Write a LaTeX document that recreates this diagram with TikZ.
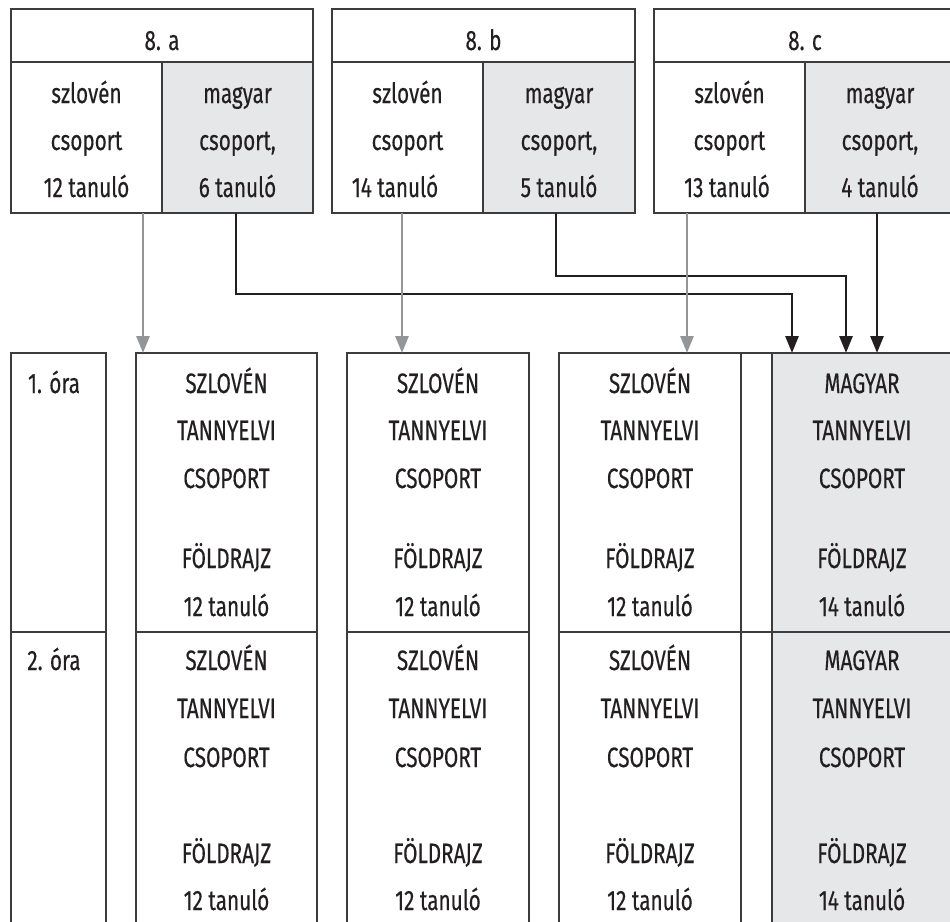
\documentclass[tikz,border=0pt]{standalone}
\usepackage{fontspec}
\setmainfont{Fira Sans}[FakeStretch=0.74,FakeBold=0.35]
\usetikzlibrary{arrows.meta}
\definecolor{shade}{HTML}{E6E7E8}
\definecolor{garr}{HTML}{939598}
\definecolor{bline}{HTML}{3C3C3C}
\definecolor{barr}{HTML}{231F20}
\newcommand\mkcell[6]{\node[cellbox, fill=#6, minimum width={(#4-#2)*1pt}, minimum height={(#5-#3)*1pt}, anchor=north west] (#1) at (#2,#3) {};}
\begin{document}
\begin{tikzpicture}[x=1pt,y=-1pt,
  cellbox/.style={draw=bline, line width=1.3pt, inner sep=0pt, outer sep=0pt},
  txt/.style={inner sep=0pt, outer sep=0pt, font=\fontsize{28}{32}\selectfont, text=barr},
  barrow/.style={draw=barr, line width=2.8pt, -{Triangle[length=17pt,width=13pt]}},
  garrow/.style={draw=garr, line width=2.8pt, -{Triangle[length=17pt,width=13pt]}}]
\useasboundingbox (0,0) rectangle (950,921);
\clip (0,0) rectangle (950,921);
% top boxes
\mkcell{ta}{11}{9}{313}{62}{white}
\mkcell{sa}{11}{62}{162}{213}{white}
\mkcell{ma}{162}{62}{313}{213}{shade}
\mkcell{tb}{332}{9}{635}{62}{white}
\mkcell{sb}{332}{62}{483}{213}{white}
\mkcell{mb}{483}{62}{635}{213}{shade}
\mkcell{tc}{654}{9}{956}{62}{white}
\mkcell{sc}{654}{62}{805}{213}{white}
\mkcell{mc}{805}{62}{956}{213}{shade}
% top texts
\node[txt,anchor=base] (tta) at (162,50) {8. a};
\node[txt,anchor=base] (ttb) at (483.5,50) {8. b};
\node[txt,anchor=base] (ttc) at (805,50) {8. c};
\node[txt,anchor=base] (sa1) at (86.5,103) {szlovén};
\node[txt,anchor=base] (sa2) at (86.5,150) {csoport};
\node[txt,anchor=base] (sa3) at (86.5,197) {12 tanuló};
\node[txt,anchor=base] (ma1) at (237.5,103) {magyar};
\node[txt,anchor=base] (ma2) at (237.5,150) {csoport,};
\node[txt,anchor=base] (ma3) at (237.5,197) {6 tanuló};
\node[txt,anchor=base] (sb1) at (407.5,103) {szlovén};
\node[txt,anchor=base] (sb2) at (407.5,150) {csoport};
\node[txt,anchor=base] (sb3) at (395,197) {14 tanuló};
\node[txt,anchor=base] (mb1) at (559,103) {magyar};
\node[txt,anchor=base] (mb2) at (559,150) {csoport,};
\node[txt,anchor=base] (mb3) at (559,197) {5 tanuló};
\node[txt,anchor=base] (sc1) at (729.5,103) {szlovén};
\node[txt,anchor=base] (sc2) at (729.5,150) {csoport};
\node[txt,anchor=base] (sc3) at (727,197) {13 tanuló};
\node[txt,anchor=base] (mc1) at (880,103) {magyar};
\node[txt,anchor=base] (mc2) at (880,150) {csoport,};
\node[txt,anchor=base] (mc3) at (880,197) {4 tanuló};
% bottom table
\mkcell{o1}{11}{353}{106}{632}{white}
\mkcell{o2}{11}{632}{106}{940}{white}
\mkcell{a1}{136}{353}{317}{632}{white}
\mkcell{a2}{136}{632}{317}{940}{white}
\mkcell{b1}{347}{353}{529}{632}{white}
\mkcell{b2}{347}{632}{529}{940}{white}
\mkcell{c1}{559}{353}{741}{632}{white}
\mkcell{c2}{559}{632}{741}{940}{white}
\mkcell{n1}{741}{353}{772}{632}{white}
\mkcell{n2}{741}{632}{772}{940}{white}
\mkcell{m1}{772}{353}{956}{632}{shade}
\mkcell{m2}{772}{632}{956}{940}{shade}
\node[txt,anchor=base] (ora1) at (54,393) {1. óra};
\node[txt,anchor=base] (ora2) at (54,670) {2. óra};
\foreach \cx/\nm/\lang/\num in {226.5/a/SZLOVÉN/12, 438/b/SZLOVÉN/12, 650/c/SZLOVÉN/12, 862/m/MAGYAR/14} {
  \node[txt,anchor=base] (\nm r1l1) at (\cx,393) {\lang};
  \node[txt,anchor=base] (\nm r1l2) at (\cx,440) {TANNYELVI};
  \node[txt,anchor=base] (\nm r1l3) at (\cx,488) {CSOPORT};
  \node[txt,anchor=base] (\nm r1l4) at (\cx,568) {FÖLDRAJZ};
  \node[txt,anchor=base] (\nm r1l5) at (\cx,616) {\num{} tanuló};
  \node[txt,anchor=base] (\nm r2l1) at (\cx,670) {\lang};
  \node[txt,anchor=base] (\nm r2l2) at (\cx,718) {TANNYELVI};
  \node[txt,anchor=base] (\nm r2l3) at (\cx,767) {CSOPORT};
  \node[txt,anchor=base] (\nm r2l4) at (\cx,863) {FÖLDRAJZ};
  \node[txt,anchor=base] (\nm r2l5) at (\cx,910) {\num{} tanuló};
}
% connector coordinates
\coordinate (gsa) at (143,213);
\coordinate (gsb) at (402,213);
\coordinate (gsc) at (687,213);
\coordinate (bma) at (236,213);
\coordinate (bmb) at (556,213);
\coordinate (bmc) at (877,213);
\coordinate (ea) at (792,353);
\coordinate (eb) at (846,353);
% black arrows
\draw[barrow] (bma) -- (bma |- 0,294) -| (ea);
\draw[barrow] (bmb) -- (bmb |- 0,276) -| (eb);
\draw[barrow] (bmc) -- (bmc |- m1.north);
% grey arrows
\draw[garrow] (gsa) -- (gsa |- a1.north);
\draw[garrow] (gsb) -- (gsb |- b1.north);
\draw[garrow] (gsc) -- (gsc |- c1.north);
\end{tikzpicture}
\end{document}
